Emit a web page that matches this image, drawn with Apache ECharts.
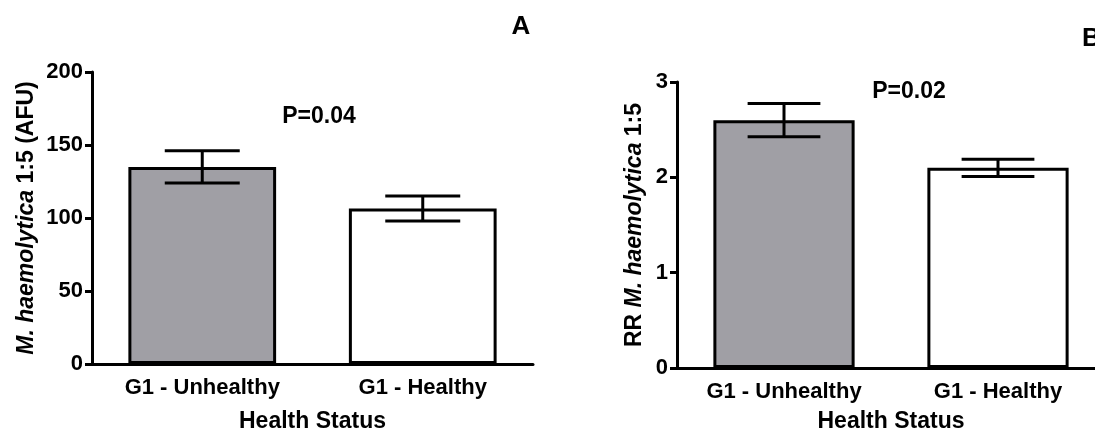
<!DOCTYPE html>
<html>
<head>
<meta charset="utf-8">
<script src="https://cdn.jsdelivr.net/npm/echarts@6/dist/echarts.min.js"></script>
<style>
html,body{margin:0;padding:0;background:#fff;}
#chart{width:1095px;height:433px;}
</style>
</head>
<body>
<div id="chart"></div>
<script>
// values
var categories = ['G1 - Unhealthy', 'G1 - Healthy'];
var afuMean = [135, 106.5];
var afuSem = [11, 8.5];
var rrMean = [2.6, 2.1];
var rrSem = [0.175, 0.09];
var afuTicks = [0, 200, 50];
var rrTicks = [0, 3, 1];
var barFills = ['#a09fa5', '#ffffff'];

var font = 'Liberation Sans, Arial, sans-serif';

function barData(means) {
    return means.map(function (v, i) {
        return { value: v, itemStyle: { color: barFills[i] } };
    });
}
function errData(means, sems) {
    return means.map(function (v, i) {
        return [i, v - sems[i], v + sems[i]];
    });
}

function errorBar(params, api) {
    var x = api.value(0);
    var lo = api.coord([x, api.value(1)]);
    var hi = api.coord([x, api.value(2)]);
    var half = api.size([1, 0])[0] * 0.17;
    var st = { stroke: '#000', lineWidth: 3 };
    return {
        type: 'group',
        children: [
            { type: 'line', shape: { x1: hi[0], y1: hi[1], x2: lo[0], y2: lo[1] }, style: st },
            { type: 'line', shape: { x1: hi[0] - half, y1: hi[1], x2: hi[0] + half, y2: hi[1] }, style: st },
            { type: 'line', shape: { x1: lo[0] - half, y1: lo[1], x2: lo[0] + half, y2: lo[1] }, style: st }
        ]
    };
}

function xAxisOf(idx, gap) {
    return {
        type: 'category',
        gridIndex: idx,
        data: categories,
        name: 'Health Status',
        nameLocation: 'middle',
        nameGap: gap,
        nameTextStyle: { fontFamily: font, fontWeight: 'bold', fontSize: 23, color: '#000' },
        axisLine: { lineStyle: { color: '#000', width: 3 } },
        axisTick: { alignWithLabel: true, length: 7, lineStyle: { color: '#000', width: 3 } },
        axisLabel: { fontFamily: font, fontWeight: 'bold', fontSize: 22, color: '#000', margin: 13 }
    };
}

function yAxisOf(idx, ticks, name, gap) {
    return {
        type: 'value',
        gridIndex: idx,
        min: ticks[0],
        max: ticks[1],
        interval: ticks[2],
        name: name,
        nameLocation: 'middle',
        nameGap: gap,
        nameTextStyle: {
            fontFamily: font, fontWeight: 'bold', fontSize: 23, color: '#000',
            rich: { i: { fontFamily: font, fontWeight: 'bold', fontStyle: 'italic', fontSize: 23, color: '#000' } }
        },
        splitLine: { show: false },
        axisLine: { show: true, lineStyle: { color: '#000', width: 3 } },
        axisTick: { show: true, length: 7, lineStyle: { color: '#000', width: 3 } },
        axisLabel: { fontFamily: font, fontWeight: 'bold', fontSize: 22, color: '#000', margin: 9 }
    };
}

var myChart = echarts.init(document.getElementById('chart'));
var option = {
    animation: false,
    backgroundColor: '#fff',
    grid: [
        { left: 92, right: 562, top: 72, bottom: 69, outerBoundsMode: 'none' },
        { left: 677, right: -10, top: 82, bottom: 65, outerBoundsMode: 'none' }
    ],
    xAxis: [xAxisOf(0, 46), xAxisOf(1, 42)],
    yAxis: [
        yAxisOf(0, afuTicks, '{i|M. haemolytica} 1:5 (AFU)', 54),
        yAxisOf(1, rrTicks, 'RR {i|M. haemolytica} 1:5', 31)
    ],
    graphic: [
        { type: 'text', x: 319, y: 117, style: { text: 'P=0.04', font: 'bold 23px ' + font, fill: '#000', align: 'center', verticalAlign: 'middle' } },
        { type: 'text', x: 909, y: 92, style: { text: 'P=0.02', font: 'bold 23px ' + font, fill: '#000', align: 'center', verticalAlign: 'middle' } },
        { type: 'text', x: 521, y: 27, style: { text: 'A', font: 'bold 26px ' + font, fill: '#000', align: 'center', verticalAlign: 'middle' } },
        { type: 'text', x: 1082, y: 39, style: { text: 'B', font: 'bold 26px ' + font, fill: '#000', align: 'left', verticalAlign: 'middle' } }
    ],
    series: [
        {
            type: 'bar', xAxisIndex: 0, yAxisIndex: 0, barWidth: '67%',
            data: barData(afuMean),
            itemStyle: { borderColor: '#000', borderWidth: 3 }
        },
        {
            type: 'custom', xAxisIndex: 0, yAxisIndex: 0, z: 5,
            renderItem: errorBar, encode: { x: 0, y: [1, 2] },
            data: errData(afuMean, afuSem)
        },
        {
            type: 'bar', xAxisIndex: 1, yAxisIndex: 1, barWidth: '66%',
            data: barData(rrMean),
            itemStyle: { borderColor: '#000', borderWidth: 3 }
        },
        {
            type: 'custom', xAxisIndex: 1, yAxisIndex: 1, z: 5,
            renderItem: errorBar, encode: { x: 0, y: [1, 2] },
            data: errData(rrMean, rrSem)
        }
    ]
};
myChart.setOption(option);
</script>
</body>
</html>
